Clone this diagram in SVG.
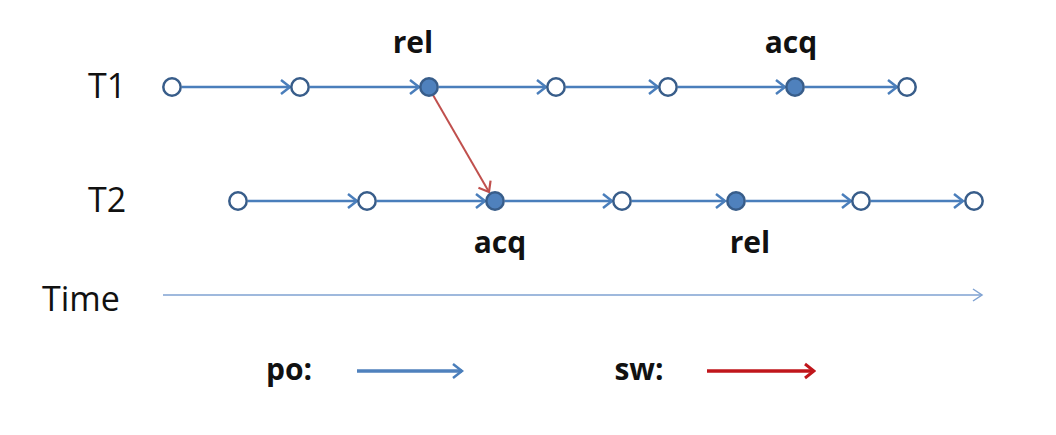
<svg xmlns="http://www.w3.org/2000/svg" width="1056" height="435" viewBox="0 0 1056 435">
<style>
.lbl{font-family:"Open Sans","Liberation Sans",sans-serif;font-size:34px;fill:#111}
.bold{font-family:"Open Sans","Liberation Sans",sans-serif;font-size:30px;font-weight:bold;fill:#111;text-anchor:middle}
.po{stroke:#4A7EBB;stroke-width:2.5;fill:none}
.open{fill:#fff;stroke:#385D8A;stroke-width:2.5}
.filled{fill:#4F81BD;stroke:#385D8A;stroke-width:2.5}
</style>
<defs>
<marker id="ab" viewBox="-11 -9 13 18" markerWidth="13" markerHeight="18" refX="0" refY="0" orient="auto" markerUnits="userSpaceOnUse">
<path d="M-9,-7 L0,0 L-9,7" fill="none" stroke="#4A7EBB" stroke-width="2.5"/>
</marker>
<marker id="ar" viewBox="-11 -9 13 18" markerWidth="13" markerHeight="18" refX="0" refY="0" orient="auto" markerUnits="userSpaceOnUse">
<path d="M-9,-7 L0,0 L-9,7" fill="none" stroke="#C0504D" stroke-width="2.2"/>
</marker>
<marker id="ar2" viewBox="-11 -9 13 18" markerWidth="13" markerHeight="18" refX="0" refY="0" orient="auto" markerUnits="userSpaceOnUse">
<path d="M-9,-7 L0,0 L-9,7" fill="none" stroke="#C0161B" stroke-width="3"/>
</marker>
<marker id="at" viewBox="-11 -9 13 18" markerWidth="13" markerHeight="18" refX="0" refY="0" orient="auto" markerUnits="userSpaceOnUse">
<path d="M-9,-6 L0,0 L-9,6" fill="none" stroke="#7FA2D2" stroke-width="1.5"/>
</marker>
</defs>
<rect width="1056" height="435" fill="#fff"/>

<g id="labels">
<text class="lbl" x="88" y="98">T1</text>
<text class="lbl" x="88" y="212">T2</text>
<text class="lbl" x="42" y="311">Time</text>
</g>

<g id="connectors">
<line class="po" x1="182" y1="87" x2="290" y2="87" marker-end="url(#ab)"/>
<line class="po" x1="310" y1="87" x2="419" y2="87" marker-end="url(#ab)"/>
<line class="po" x1="439" y1="87" x2="546" y2="87" marker-end="url(#ab)"/>
<line class="po" x1="566" y1="87" x2="658" y2="87" marker-end="url(#ab)"/>
<line class="po" x1="678" y1="87" x2="785" y2="87" marker-end="url(#ab)"/>
<line class="po" x1="805" y1="87" x2="897" y2="87" marker-end="url(#ab)"/>

<line class="po" x1="248" y1="201" x2="357" y2="201" marker-end="url(#ab)"/>
<line class="po" x1="377" y1="201" x2="485" y2="201" marker-end="url(#ab)"/>
<line class="po" x1="505" y1="201" x2="612" y2="201" marker-end="url(#ab)"/>
<line class="po" x1="632" y1="201" x2="725" y2="201" marker-end="url(#ab)"/>
<line class="po" x1="746" y1="201" x2="851" y2="201" marker-end="url(#ab)"/>
<line class="po" x1="871" y1="201" x2="963" y2="201" marker-end="url(#ab)"/>

<line x1="433" y1="95" x2="489" y2="192" stroke="#C0504D" stroke-width="2" marker-end="url(#ar)"/>

<line x1="163" y1="295" x2="982" y2="295" stroke="#7FA2D2" stroke-width="1.5" marker-end="url(#at)"/>
</g>

<g id="t1-nodes">
<circle id="t1n1" class="open" cx="172" cy="87" r="8.7"/>
<circle id="t1n2" class="open" cx="300" cy="87" r="8.7"/>
<g id="t1-rel"><circle class="filled" cx="429" cy="87" r="8.7"/><text class="bold" x="413" y="53">rel</text></g>
<circle id="t1n4" class="open" cx="556" cy="87" r="8.7"/>
<circle id="t1n5" class="open" cx="668" cy="87" r="8.7"/>
<g id="t1-acq"><circle class="filled" cx="795" cy="87" r="8.7"/><text class="bold" x="791" y="53">acq</text></g>
<circle id="t1n7" class="open" cx="907" cy="87" r="8.7"/>
</g>

<g id="t2-nodes">
<circle id="t2n1" class="open" cx="238" cy="201" r="8.7"/>
<circle id="t2n2" class="open" cx="367" cy="201" r="8.7"/>
<g id="t2-acq"><circle class="filled" cx="495" cy="201" r="8.7"/><text class="bold" x="500" y="253">acq</text></g>
<circle id="t2n4" class="open" cx="622" cy="201" r="8.7"/>
<g id="t2-rel"><circle class="filled" cx="736" cy="201" r="8.7"/><text class="bold" x="750" y="253">rel</text></g>
<circle id="t2n6" class="open" cx="861" cy="201" r="8.7"/>
<circle id="t2n7" class="open" cx="974" cy="201" r="8.7"/>
</g>

<g id="legend">
<text class="bold" x="289" y="380">po:</text>
<line x1="357" y1="371" x2="462" y2="371" stroke="#4F81BD" stroke-width="3.5" marker-end="url(#ab)"/>
<text class="bold" x="639" y="380">sw:</text>
<line x1="707" y1="371" x2="814" y2="371" stroke="#C0161B" stroke-width="3.5" marker-end="url(#ar2)"/>
</g>
</svg>
